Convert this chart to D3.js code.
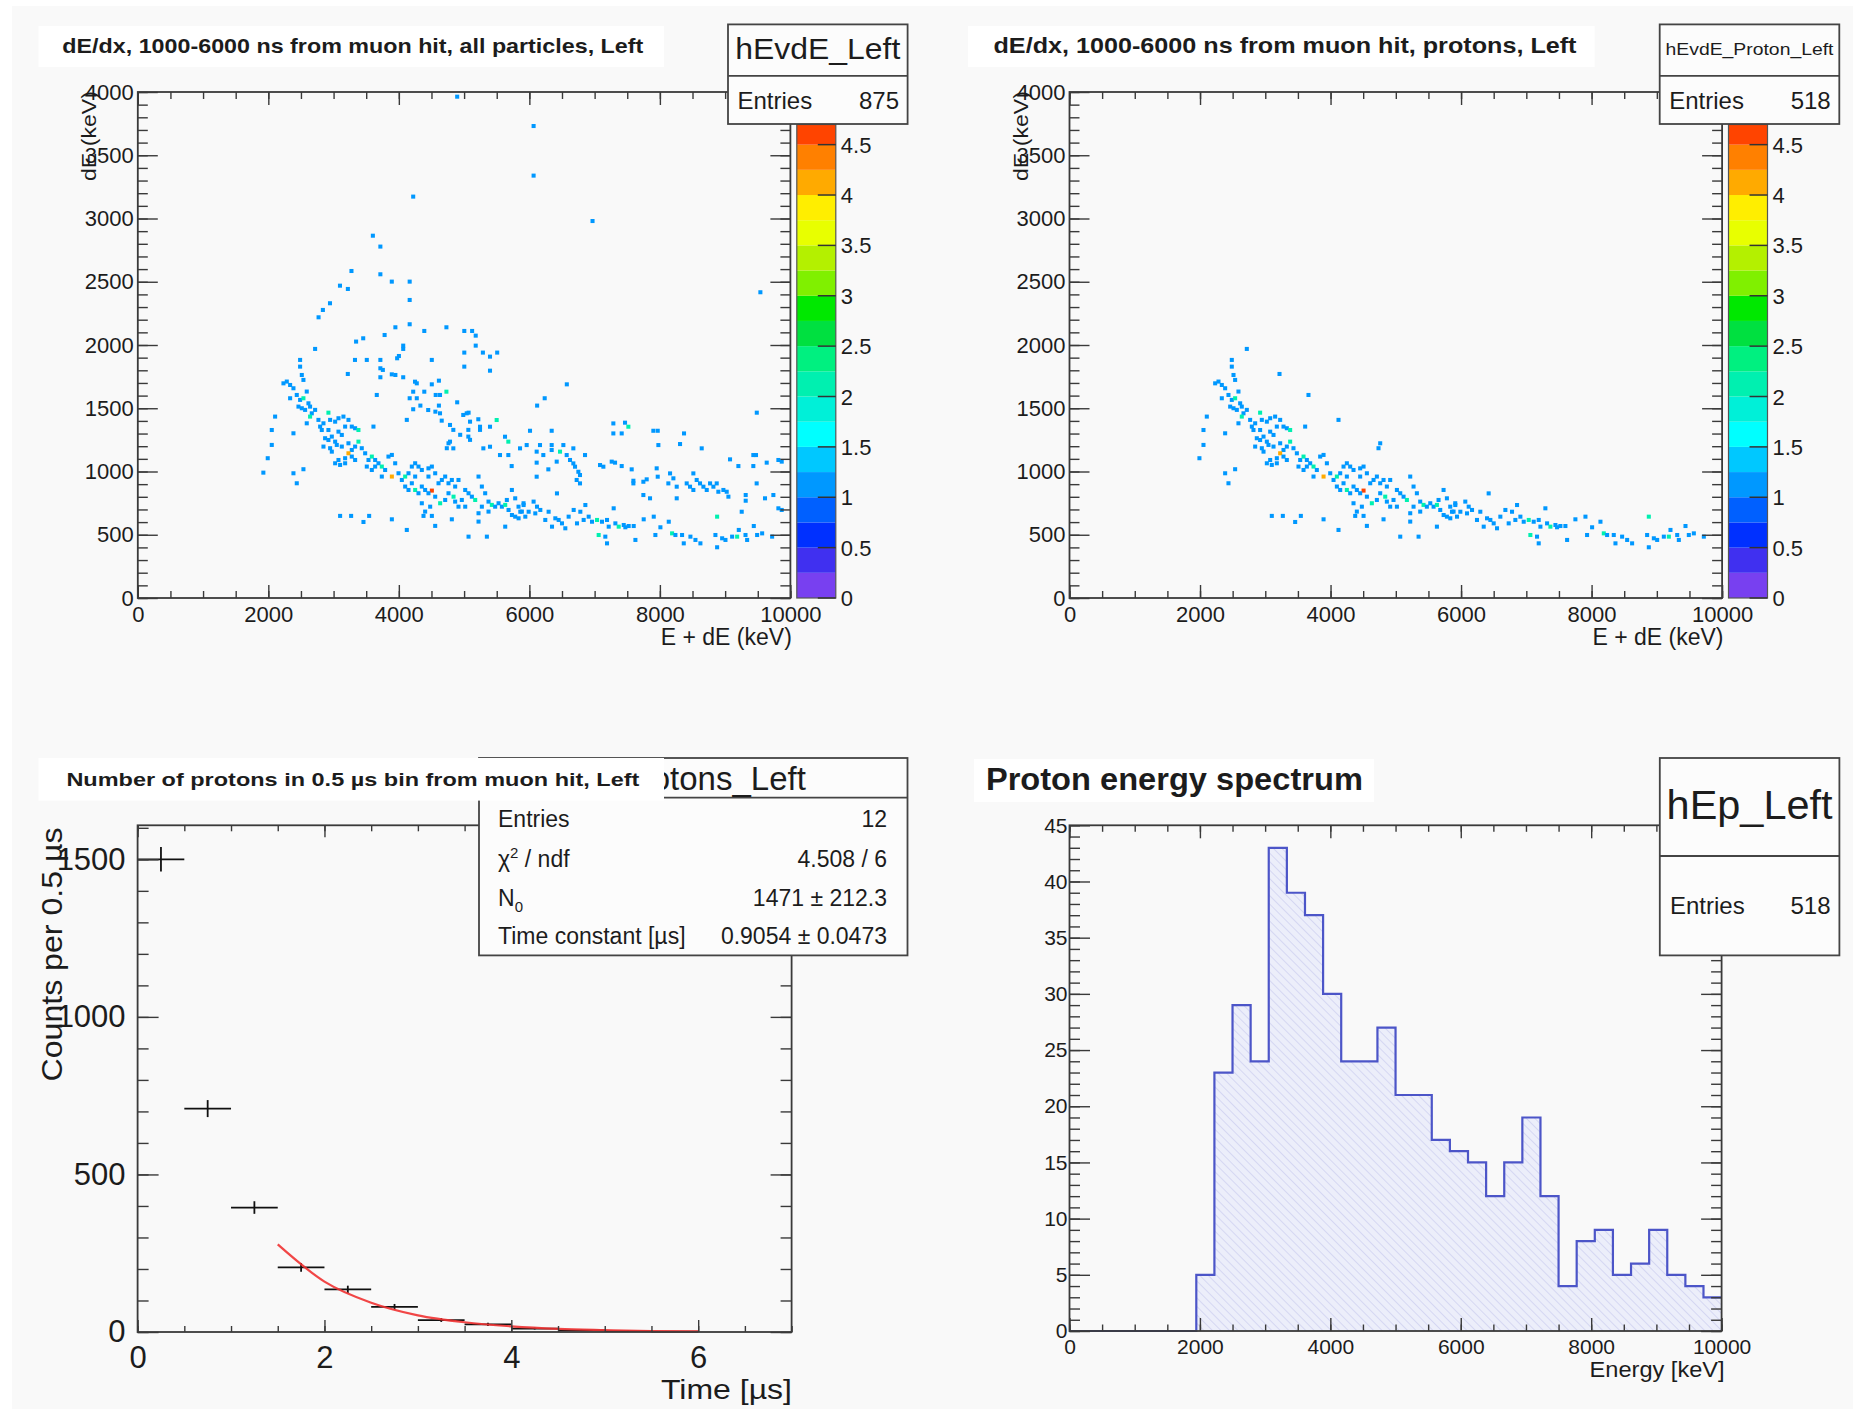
<!DOCTYPE html>
<html>
<head>
<meta charset="utf-8">
<script src="https://cdn.jsdelivr.net/npm/d3@7"></script>
<style>
  body { margin: 0; background: #fff; }
  text { font-family: "Liberation Sans", Arial, Helvetica, sans-serif; }
</style>
</head>
<body>
<div id="chart"></div>
<script>
// ---- data ----

// 2D cells [E+dE keV, dE keV, entries] that are in the proton selection
const protonCells = [
  [2717,1969,1],[2487,1882,1],[2487,1829,1],[2513,1763,1],[2538,1724,1],[3218,1771,1],[2232,1697,1],[2283,1711,1],
  [2334,1684,1],[2385,1658,1],[2334,1579,1],[2436,1605,1],[2487,1566,1],[2538,1579,2],[2589,1632,1],[2615,1539,1],
  [2462,1513,1],[2513,1500,1],[2564,1487,1],[2640,1513,1],[2666,1460,1],[2717,1487,1],[2640,1434,2],[2589,1381,1],
  [2921,1465,2],[2768,1408,1],[2794,1355,1],[2845,1381,1],[2947,1408,1],[3024,1394,1],[3075,1421,1],[3151,1434,1],
  [3228,1408,1],[3177,1355,1],[3279,1355,1],[3330,1342,1],[3381,1328,2],[2921,1328,1],[3075,1315,1],[3126,1289,1],
  [2104,1434,1],[2053,1328,1],[2385,1302,1],[2053,1210,1],[1991,1105,1],[3611,1355,1],[3662,1605,1],[4122,1408,1],
  [2870,1263,1],[2921,1249,1],[2973,1276,1],[3024,1236,1],[2845,1197,1],[2947,1184,1],[3049,1210,1],[3126,1197,1],
  [3228,1223,1],[3279,1170,1],[3330,1197,1],[3381,1236,2],[3432,1184,1],[3228,1144,4],[3177,1105,1],[3075,1091,1],
  [3024,1065,1],[3100,1052,1],[3177,1065,1],[3279,1118,1],[3330,1091,1],[3484,1144,1],[3535,1091,1],[3586,1118,2],
  [3637,1091,1],[3688,1065,1],[3739,1039,2],[3790,1012,1],[3841,1118,1],[3893,1131,1],[3637,1039,1],[3586,1012,1],
  [3893,960,4],[3995,986,1],[4046,933,1],[4097,960,2],[4148,986,1],[4199,1039,1],[4250,1065,1],[4301,1039,1],
  [4352,1012,1],[4454,1025,1],[4506,1039,1],[4250,960,1],[4199,907,1],[4097,881,1],[4148,854,1],[4250,854,2],
  [4301,828,1],[4352,881,1],[4403,854,1],[4454,960,1],[4557,986,1],[4608,907,1],[4659,933,1],[4710,960,1],
  [4761,907,1],[4812,933,1],[4863,881,1],[4914,933,1],[4761,1223,1],[4735,1184,1],[4506,849,5],[4454,828,1],
  [4557,801,1],[4633,749,2],[4710,775,1],[4761,828,1],[4838,801,2],[4863,762,1],[4965,775,1],[5017,854,1],
  [5068,828,1],[5119,801,1],[5170,775,2],[5221,960,1],[5272,881,1],[5323,828,1],[5374,762,1],[5425,736,2],
  [5476,722,1],[5528,749,1],[5579,722,1],[5630,736,2],[5655,775,1],[5681,696,1],[5732,854,1],[5783,788,1],
  [5834,722,1],[5885,683,1],[5911,749,1],[2385,986,1],[2436,907,1],[2538,1018,1],[3100,649,1],[3269,649,1],
  [3458,601,1],[3545,649,1],[3893,622,1],[4122,538,1],[4378,649,1],[4506,649,1],[4557,570,1],[4812,622,1],
  [5068,485,1],[5221,604,1],[5349,485,1],[5630,564,1],[5783,643,1],[4352,749,1],[4403,683,1],[4480,722,1],
  [2819,1328,1],[2973,1157,1],[3509,1039,1],[3944,1065,1],[3739,960,1],[5017,722,1],[4914,722,1],[5272,722,1],
  [5221,670,1],[5374,683,1],
  [5912,735,1],[6065,762,1],[6117,722,1],[6168,696,1],[6091,669,1],[5989,682,1],[5861,682,1],[5835,630,1],
  [5733,656,1],[6295,682,1],[6398,630,1],[6449,617,1],[6423,827,1],[6500,590,1],[6551,551,1],[6602,643,1],
  [6679,696,1],[6730,590,1],[6781,682,1],[6832,617,1],[6858,735,1],[6909,643,1],[6960,603,1],[7037,617,2],
  [7113,603,1],[7190,617,1],[7216,564,1],[7062,498,2],[7164,485,1],[7190,432,1],[7292,709,1],[7318,590,1],
  [7369,564,2],[7446,577,1],[7522,569,1],[7599,569,1],[7625,459,1],[7752,622,1],[7906,643,1],[7931,498,1],
  [8008,559,1],[8136,603,1],[8187,511,2],[8238,498,1],[8340,498,1],[8366,432,1],[8468,485,1],[8545,459,1],
  [8621,432,1],[8851,498,1],[8877,643,2],[8877,401,1],[8954,472,1],[9005,459,1],[9107,485,1],[9184,485,2],
  [9209,538,1],[9312,498,1],[9337,459,1],[9439,569,1],[9490,498,1],[9567,511,1],[9720,485,1],[5938,643,1],
  [6244,617,1],[6347,564,1],[7471,559,1]
];

// cells that only appear in the all-particles plot
const otherCells = [
  [4894,3963,1],[6065,3731,1],[6065,3339,1],[4220,3173,1],[6968,2980,1],[3602,2864,1],[3717,2778,1],[3274,2585,1],
  [3717,2559,1],[3892,2501,1],[4166,2501,1],[3098,2469,1],[3219,2443,1],[4166,2356,1],[2945,2330,1],[2836,2277,1],
  [2770,2219,1],[9540,2417,1],[3947,2140,1],[4166,2164,1],[4390,2111,1],[4729,2140,1],[5003,2111,1],[5123,2111,1],
  [5178,2074,1],[3782,2079,1],[3345,2027,1],[3454,2053,1],[4067,1995,1],[4067,1969,1],[5178,1995,1],[5003,1940,1],
  [5288,1940,1],[5397,1908,1],[5507,1940,1],[3328,1882,1],[3509,1882,1],[3717,1882,1],[3974,1895,1],[4001,1913,1],
  [4505,1882,1],[5003,1829,1],[5397,1797,1],[3717,1816,1],[3755,1803,1],[3892,1768,1],[3947,1763,1],[3717,1745,1],
  [4067,1745,1],[4248,1710,1],[4275,1697,1],[4505,1689,1],[4614,1718,1],[6574,1689,1],[4220,1631,1],[4390,1631,1],
  [4729,1631,2],[4565,1605,1],[4631,1605,1],[4894,1547,1],[4166,1579,1],[4275,1579,1],[6235,1579,1],[6119,1521,1],
  [4220,1492,1],[4330,1521,1],[4614,1521,1],[4450,1486,1],[4560,1473,1],[4631,1460,1],[4987,1447,1],[5069,1465,1],
  [9485,1465,1],
  [4657,1402,1],[4784,1368,1],[5040,1460,1],[5091,1394,1],[5218,1413,1],[5244,1329,1],[5065,1329,1],[4835,1329,1],
  [4784,1236,1],[5065,1276,1],[5091,1250,1],[1924,991,1],[4835,1183,1],[4940,1290,1],
  [5499,1407,2],[5244,1354,1],[5397,1354,1],[6010,1322,1],[6342,1322,1],[5627,1275,1],[5678,1236,2],[5295,1183,1],
  [5397,1196,1],[5857,1183,1],[5959,1209,1],[6163,1209,1],[6342,1209,1],[6521,1209,1],[6674,1183,1],[6112,1157,1],
  [6214,1130,1],[6342,1170,1],[6470,1157,2],[5550,1130,1],[5678,1130,1],[6853,1130,1],[5729,1043,1],[6112,1070,1],
  [6291,1017,1],[6419,1078,1],[6572,1130,1],[6623,1091,1],[6674,1064,1],[6700,1038,1],[6751,998,1],[6776,972,1],
  [6725,933,1],[6776,906,1],[6112,959,1],[7083,1051,1],[7134,1038,1],[7262,1078,1],[7313,1070,1],[7415,1043,1],
  [7287,1380,1],[7466,1386,1],[7517,1354,2],[7287,1301,1],[7415,1301,1],[7568,1017,1],[7900,1322,1],[7967,1322,1],
  [7977,1209,1],[7594,927,1],[7594,906,1],[7747,919,1],[7798,938,1],[7951,1025,1],[7967,959,1],[8156,985,1],
  [8207,946,1],[8130,906,1],[8258,880,1],[8309,1217,1],[8370,1301,1],[8641,1183,1],[8513,985,1],[8564,933,1],
  [8411,906,1],[8462,880,1],[8513,854,1],[8615,906,1],[8667,880,1],[8718,854,1],[8769,906,1],[8820,880,1],
  [8871,906,1],[8896,840,1],[8973,854,1],[9024,840,1],[9050,801,1],[9075,1096,1],[9203,1043,1],[9432,1130,1],
  [9473,1130,1],[9432,1043,1],[9637,1070,1],[9816,1091,1],[9867,1078,1],[9315,814,1],[9315,769,1],[9483,906,1],
  [9611,788,1],[9739,814,1],[9816,709,1],[9867,696,1],[9254,682,1],[7747,814,1],[7849,788,1],[8258,788,1]
];

const energyTicks = [0, 2000, 4000, 6000, 8000, 10000];
const dEdxTicks = [0, 500, 1000, 1500, 2000, 2500, 3000, 3500, 4000];

// colour palette (bottom to top) and its band edges
const paletteColors = ['#7840f0','#4030f0','#0030ff','#0060ff','#0098ff','#00c8ff','#00ffff','#00f0d8','#00f0b0',
  '#00f080','#00e040','#00e800','#80f000','#b4f000','#e8ff00','#ffee00','#ffaa00','#ff8000','#ff4400'];
const zBandEdges = [0,0.25,0.5,0.75,1,1.25,1.5,1.75,2,2.25,2.5,2.75,3,3.25,3.5,3.75,4,4.25,4.5,4.7];
const zTicks = [0, 0.5, 1, 1.5, 2, 2.5, 3, 3.5, 4, 4.5];

// protons per 0.5 us bin
const timeBins = [0.25, 0.75, 1.25, 1.75, 2.25, 2.75, 3.25, 3.75, 4.25, 4.75, 5.25, 5.75];
const protonCounts = [1500, 709, 395, 205, 135, 80, 38, 24, 11, 5, 3, 1];
const countErrors = [39, 27, 20, 14, 12, 9, 6, 5, 3, 2, 2, 1];
const fitTime = [1.5, 2, 2.5, 3, 3.5, 4, 4.5, 5, 5.5, 6];
const fitCounts = [278, 160, 93, 53, 31, 18, 10, 6, 3, 2];
const timeTicks = [0, 2, 4, 6];
const countTicks = [0, 500, 1000, 1500];

// proton energy spectrum, 36 bins over 0-10000 keV
const energyCounts = [0,0,0,0,0,0,0,5,23,29,24,43,39,37,30,24,24,27,21,21,17,16,15,12,15,19,12,4,8,9,5,6,9,5,4,3];
const spectrumTicks = [0, 5, 10, 15, 20, 25, 30, 35, 40, 45];

// ---- drawing ----
const W = 1853, H = 1409;
const ink = '#1c1c1c', frameInk = '#3a3a3a';

const svg = d3.select('#chart').append('svg').attr('width', W).attr('height', H);
svg.append('rect').attr('width', W).attr('height', H).attr('fill', '#fff');
svg.append('rect').attr('x', 12).attr('y', 6).attr('width', W - 12).attr('height', H - 6).attr('fill', '#f9f9f9');

const defs = svg.append('defs');
const hatch = defs.append('pattern').attr('id', 'hatch').attr('patternUnits', 'userSpaceOnUse')
  .attr('width', 6).attr('height', 6).attr('patternTransform', 'rotate(-45)');
hatch.append('rect').attr('width', 6).attr('height', 6).attr('fill', '#eceefa');
hatch.append('line').attr('x1', 0).attr('y1', 0).attr('x2', 0).attr('y2', 6)
  .attr('stroke', '#cfd2f0').attr('stroke-width', 1.6);

function label(x, y, str, size, opt = {}) {
  const t = svg.append('text').attr('x', x).attr('y', y).attr('font-size', size)
    .attr('fill', opt.fill || ink).attr('text-anchor', opt.anchor || 'start');
  if (opt.bold) t.attr('font-weight', 'bold');
  if (opt.len) t.attr('textLength', opt.len).attr('lengthAdjust', 'spacingAndGlyphs');
  if (opt.rotate) t.attr('transform', `rotate(-90 ${x} ${y})`);
  t.text(str);
  return t;
}

function drawAxes(x, y, o) {
  const g = svg.append('g').attr('color', frameInk);
  const [xl, xr] = x.range(), [yb, yt] = y.range();
  const add = (axis, tx, ty) => {
    const a = g.append('g').attr('transform', `translate(${tx},${ty})`).call(axis);
    a.select('.domain').remove();
    a.attr('font-family', null).attr('font-size', o.fontSize);
    a.selectAll('line').attr('stroke-width', 1.4);
    a.selectAll('text').attr('fill', ink);
  };
  add(d3.axisBottom(x).tickValues(o.xMinor).tickSize(-o.xMinorLen).tickFormat(''), 0, yb);
  add(d3.axisTop(x).tickValues(o.xMinor).tickSize(-o.xMinorLen).tickFormat(''), 0, yt);
  add(d3.axisBottom(x).tickValues(o.xMajor).tickSize(-o.xMajorLen).tickPadding(o.xPad).tickFormat(d3.format('d')), 0, yb);
  add(d3.axisTop(x).tickValues(o.xMajor).tickSize(-o.xMajorLen).tickFormat(''), 0, yt);
  add(d3.axisLeft(y).tickValues(o.yMinor).tickSize(-o.yMinorLen).tickFormat(''), xl, 0);
  add(d3.axisRight(y).tickValues(o.yMinor).tickSize(-o.yMinorLen).tickFormat(''), xr, 0);
  add(d3.axisLeft(y).tickValues(o.yMajor).tickSize(-o.yMajorLen).tickPadding(o.yPad).tickFormat(d3.format('d')), xl, 0);
  add(d3.axisRight(y).tickValues(o.yMajor).tickSize(-o.yMajorLen).tickFormat(''), xr, 0);
  svg.append('rect').attr('x', xl).attr('y', yt).attr('width', xr - xl).attr('height', yb - yt)
    .attr('fill', 'none').attr('stroke', frameInk).attr('stroke-width', 1.8);
}

function box(x0, y0, x1, y1, fill) {
  return svg.append('rect').attr('x', x0).attr('y', y0).attr('width', x1 - x0).attr('height', y1 - y0)
    .attr('fill', fill).attr('stroke', fill === '#fff' ? 'none' : '#444').attr('stroke-width', 1.8);
}
function hline(x0, x1, y) {
  svg.append('line').attr('x1', x0).attr('x2', x1).attr('y1', y).attr('y2', y)
    .attr('stroke', '#444').attr('stroke-width', 1.8);
}

const zColor = d3.scaleThreshold().domain(zBandEdges.slice(1, -1)).range(paletteColors);
const cellE = 62, cellDE = 32;

function drawScatter(cells, x, y) {
  svg.append('g').selectAll('rect').data(cells).join('rect')
    .attr('x', d => x(d[0] - cellE / 2)).attr('y', d => y(d[1] + cellDE / 2))
    .attr('width', x(cellE) - x(0)).attr('height', y(0) - y(cellDE))
    .attr('fill', d => zColor(d[2]));
}

function drawPalette(x0, x1, zy) {
  const g = svg.append('g');
  g.selectAll('rect').data(paletteColors).join('rect')
    .attr('x', x0).attr('width', x1 - x0)
    .attr('y', (c, i) => zy(zBandEdges[i + 1])).attr('height', (c, i) => zy(zBandEdges[i]) - zy(zBandEdges[i + 1]))
    .attr('fill', c => c);
  g.append('rect').attr('x', x0).attr('y', zy.range()[1]).attr('width', x1 - x0)
    .attr('height', zy.range()[0] - zy.range()[1]).attr('fill', 'none').attr('stroke', '#555').attr('stroke-width', 1.2);
  g.selectAll('line').data(zTicks).join('line')
    .attr('x1', x1 - 18).attr('x2', x1).attr('y1', d => zy(d)).attr('y2', d => zy(d))
    .attr('stroke', '#333').attr('stroke-width', 1.5);
  g.selectAll('text').data(zTicks).join('text')
    .attr('x', x1 + 5).attr('y', d => zy(d) + 8).attr('font-size', 22).attr('fill', ink)
    .text(d => d);
}

function dEdxPanel(px, cells, title, titleLen, titleSize, statName, statSize, statLen, entries) {
  const x = d3.scaleLinear().domain([0, 10000]).range([px, px + 652.6]);
  const y = d3.scaleLinear().domain([0, 4000]).range([598, 92]);
  drawScatter(cells, x, y);
  drawAxes(x, y, {
    xMajor: energyTicks, xMinor: d3.range(0, 10001, 500), xMajorLen: 13, xMinorLen: 7, xPad: 8,
    yMajor: dEdxTicks, yMinor: d3.range(0, 4001, 100), yMajorLen: 20, yMinorLen: 10, yPad: 4, fontSize: 22
  });
  const zy = d3.scaleLinear().domain([0, 4.7]).range([598, 124.5]);
  drawPalette(px + 659, px + 698, zy);
  label(px + 654, 645, 'E + dE (keV)', 23, { anchor: 'end' });
  label(px - 42, 91, 'dE (keV)', 20, { anchor: 'end', rotate: true, len: 90 });
  // stats box
  const sx = px + 590.2;
  box(sx, 24.4, sx + 179.6, 124, '#fcfcfc');
  hline(sx, sx + 179.6, 75.8);
  label(sx + 89.8, statSize > 20 ? 59 : 55, statName, statSize, { anchor: 'middle', len: statLen });
  label(sx + 9.5, 108.5, 'Entries', 24);
  label(sx + 171, 108.5, entries, 24, { anchor: 'end' });
  // title
  box(px - 99.3 + (px > 500 ? -2.2 : 0), 26, px + 526.2 + (px > 500 ? -1 : 0), 67, '#fff');
  label(px - 75.5 + (px > 500 ? -0.5 : 0), 53, title, titleSize, { bold: true, len: titleLen });
}

dEdxPanel(137.8, protonCells.concat(otherCells), 'dE/dx, 1000-6000 ns from muon hit, all particles, Left',
  581, 21, 'hEvdE_Left', 30, 165, '875');
dEdxPanel(1069.5, protonCells, 'dE/dx, 1000-6000 ns from muon hit, protons, Left',
  583, 22, 'hEvdE_Proton_Left', 17, 168, '518');

// ---- bottom left: protons vs time ----
{
  const x = d3.scaleLinear().domain([0, 7]).range([137.6, 791.6]);
  const y = d3.scaleLinear().domain([0, 1608]).range([1332, 825.3]);
  const g = svg.append('g').attr('stroke', '#111').attr('stroke-width', 1.8);
  timeBins.forEach((t, i) => {
    const n = protonCounts[i], e = countErrors[i];
    g.append('line').attr('x1', x(t - 0.25)).attr('x2', x(t + 0.25)).attr('y1', y(n)).attr('y2', y(n));
    g.append('line').attr('x1', x(t)).attr('x2', x(t)).attr('y1', y(n - e)).attr('y2', y(n + e));
  });
  const fit = d3.line().x((t, i) => x(t)).y((t, i) => y(fitCounts[i])).curve(d3.curveMonotoneX);
  svg.append('path').attr('d', fit(fitTime)).attr('fill', 'none')
    .attr('stroke', '#f03232').attr('stroke-width', 2.2).attr('opacity', 0.9);
  drawAxes(x, y, {
    xMajor: timeTicks, xMinor: d3.range(0, 7.01, 0.5), xMajorLen: 12, xMinorLen: 6, xPad: 14,
    yMajor: countTicks, yMinor: d3.range(0, 1601, 100), yMajorLen: 21, yMinorLen: 11, yPad: 12, fontSize: 31
  });
  label(792, 1399, 'Time [µs]', 28, { anchor: 'end', len: 131 });
  label(62, 827.5, 'Counts per 0.5 µs', 29, { anchor: 'end', rotate: true, len: 254 });

  box(479, 758, 907.5, 955.4, '#fcfcfc');
  hline(479, 907.5, 797.6);
  label(693, 790, 'hNprotons_Left', 33, { anchor: 'middle' });
  const rows = [['Entries', '12'], ['χ2 / ndf', '4.508 / 6'], ['N0', '1471 ± 212.3'], ['Time constant [µs]', '0.9054 ± 0.0473']];
  rows.forEach(([k, v], i) => {
    const yy = [827, 867, 906, 944][i];
    const t = label(498, yy, '', 23);
    if (i === 1) {
      t.append('tspan').text('χ');
      t.append('tspan').attr('dy', -9).attr('font-size', 15).text('2');
      t.append('tspan').attr('dy', 9).text(' / ndf');
    } else if (i === 2) {
      t.append('tspan').text('N');
      t.append('tspan').attr('dy', 6).attr('font-size', 15).text('0');
    } else t.text(k);
    label(887, yy, v, 23, { anchor: 'end' });
  });
  box(38.5, 758, 664, 800.6, '#fff');
  label(66.4, 786, 'Number of protons in 0.5 µs bin from muon hit, Left', 19, { bold: true, len: 573 });
}

// ---- bottom right: proton energy spectrum ----
{
  const x = d3.scaleLinear().domain([0, 10000]).range([1069.5, 1721.6]);
  const y = d3.scaleLinear().domain([0, 45]).range([1331, 825.3]);
  const bw = 10000 / energyCounts.length;
  const pts = energyCounts.map((c, i) => [i * bw, c]).concat([[10000, energyCounts[energyCounts.length - 1]]]);
  const area = d3.area().x(d => x(d[0])).y0(y(0)).y1(d => y(d[1])).curve(d3.curveStepAfter);
  const line = d3.line().x(d => x(d[0])).y(d => y(d[1])).curve(d3.curveStepAfter);
  svg.append('path').attr('d', area(pts)).attr('fill', 'url(#hatch)');
  svg.append('path').attr('d', line(pts)).attr('fill', 'none').attr('stroke', '#4c55c8').attr('stroke-width', 2.2);
  drawAxes(x, y, {
    xMajor: energyTicks, xMinor: d3.range(0, 10001, 500), xMajorLen: 13, xMinorLen: 6.5, xPad: 8,
    yMajor: spectrumTicks, yMinor: d3.range(0, 46, 1), yMajorLen: 20.5, yMinorLen: 10.5, yPad: 2, fontSize: 21
  });
  label(1724.6, 1377, 'Energy [keV]', 22, { anchor: 'end', len: 135 });

  box(1659.8, 758, 1839.4, 955.4, '#fcfcfc');
  hline(1659.8, 1839.4, 856);
  label(1749.6, 819, 'hEp_Left', 41, { anchor: 'middle', len: 166 });
  label(1670, 914, 'Entries', 24);
  label(1830.5, 914, '518', 24, { anchor: 'end' });

  box(974, 759, 1374, 802, '#fff');
  label(985.9, 790, 'Proton energy spectrum', 31, { bold: true, len: 377 });
}
</script>
</body>
</html>
